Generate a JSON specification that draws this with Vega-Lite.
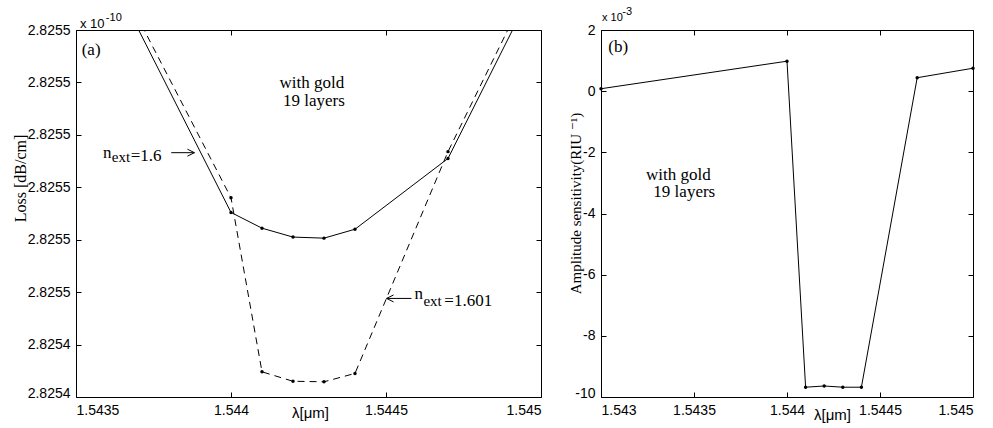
{
  "$schema": "https://vega.github.io/schema/vega-lite/v6.json",
  "autosize": {"type": "none"},
  "padding": {"left": 76, "top": 30, "right": 917, "bottom": 398},
  "background": "white",
  "bounds": "flush",
  "spacing": 60,
  "config": {
    "view": {"stroke": "black", "strokeWidth": 1},
    "axis": {"domain": false, "grid": false, "ticks": true, "tickSize": -5, "tickColor": "black", "tickWidth": 1,
      "labelFont": "Liberation Sans", "labelFontSize": 14, "labelColor": "black", "labelPadding": 11,
      "labelOverlap": false, "labelBound": false, "titleColor": "black", "titleFontWeight": "normal"}
  },
  "datasets": {
    "loss": [
      {"wl": 1.543, "loss": 2.825582, "n": "1.6"},
      {"wl": 1.544, "loss": 2.8254652, "n": "1.6"},
      {"wl": 1.5441, "loss": 2.8254622, "n": "1.6"},
      {"wl": 1.5442, "loss": 2.8254605, "n": "1.6"},
      {"wl": 1.5443, "loss": 2.8254603, "n": "1.6"},
      {"wl": 1.5444, "loss": 2.825462, "n": "1.6"},
      {"wl": 1.5447, "loss": 2.8254755, "n": "1.6"},
      {"wl": 1.545, "loss": 2.8255108, "n": "1.6"},
      {"wl": 1.543, "loss": 2.8255822, "n": "1.601"},
      {"wl": 1.544, "loss": 2.825468, "n": "1.601"},
      {"wl": 1.5441, "loss": 2.8254348, "n": "1.601"},
      {"wl": 1.5442, "loss": 2.825433, "n": "1.601"},
      {"wl": 1.5443, "loss": 2.8254329, "n": "1.601"},
      {"wl": 1.5444, "loss": 2.8254345, "n": "1.601"},
      {"wl": 1.5447, "loss": 2.8254768, "n": "1.601"},
      {"wl": 1.545, "loss": 2.8255129, "n": "1.601"}
    ],
    "sens": [
      {"wl": 1.543, "s": 0.08},
      {"wl": 1.544, "s": 0.98},
      {"wl": 1.5441, "s": -9.68},
      {"wl": 1.5442, "s": -9.64},
      {"wl": 1.5443, "s": -9.68},
      {"wl": 1.5444, "s": -9.68},
      {"wl": 1.5447, "s": 0.44},
      {"wl": 1.545, "s": 0.75}
    ],
    "annA": [
      {"x": 1.5435183, "y": 2.8254952, "t": "(a)", "k": "main"},
      {"x": 1.5442611, "y": 2.825489, "t": "with gold", "k": "mainc"},
      {"x": 1.5442675, "y": 2.8254855, "t": "19 layers", "k": "mainc"},
      {"x": 1.5435867, "y": 2.8254756, "t": "n", "k": "main"},
      {"x": 1.5436156, "y": 2.8254749, "t": "ext", "k": "sub"},
      {"x": 1.5436766, "y": 2.8254751, "t": "=1.6", "k": "main"},
      {"x": 1.5445918, "y": 2.8254486, "t": "n", "k": "main"},
      {"x": 1.5446207, "y": 2.8254474, "t": "ext", "k": "sub"},
      {"x": 1.5446882, "y": 2.8254474, "t": "=1.601", "k": "main"},
      {"x": 1.5435128, "y": 2.8255004, "t": "x 10", "k": "sci"},
      {"x": 1.5435963, "y": 2.8255017, "t": "-10", "k": "sup"}
    ],
    "arrowsA": [
      {"x1": 1.5438073, "x2": 1.5438821, "y": 2.8254766, "tip": 1.5438821, "dir": "r"},
      {"x1": 1.5445019, "x2": 1.5445822, "y": 2.8254488, "tip": 1.5445019, "dir": "l"}
    ],
    "annB": [
      {"x": 1.5430392, "y": 1.2806, "t": "(b)", "k": "main"},
      {"x": 1.5434156, "y": -2.905, "t": "with gold", "k": "mainc"},
      {"x": 1.5434478, "y": -3.46, "t": "19 layers", "k": "mainc"},
      {"x": 1.5430054, "y": 2.294, "t": "x 10", "k": "sci"},
      {"x": 1.5431145, "y": 2.4905, "t": "-3", "k": "sup"}
    ]
  },
  "hconcat": [
    {
      "width": 465,
      "height": 367,
      "layer": [
        {
          "data": {"name": "loss"},
          "transform": [{"filter": "datum.n == '1.6'"}],
          "mark": {"type": "line", "color": "black", "strokeWidth": 1, "clip": true},
          "encoding": {
            "x": {"field": "wl", "type": "quantitative",
              "scale": {"domain": [1.5435, 1.545], "nice": false, "zero": false},
              "axis": {"orient": "bottom", "values": [1.5435, 1.544, 1.5445, 1.545], "format": "~g",
                "title": "λ[μm]", "titleX": 234, "titleY": 20, "titleBaseline": "alphabetic", "titleAlign": "center",
                "titleFont": "Liberation Sans", "titleFontSize": 15}},
            "y": {"field": "loss", "type": "quantitative",
              "scale": {"domain": [2.82543, 2.8255], "nice": false, "zero": false},
              "axis": {"orient": "left",
                "values": [2.82543, 2.82544, 2.82545, 2.82546, 2.82547, 2.82548, 2.82549, 2.8255],
                "labelExpr": "datum.value < 2.825445 ? '2.8254' : '2.8255'",
                "labelBaseline": {"condition": {"test": "datum.value < 2.825435", "value": "alphabetic"}, "value": "middle"},
                "title": "Loss [dB/cm]", "titleX": -56, "titleY": 148, "titleAngle": -90, "titleBaseline": "middle",
                "titleAlign": "center", "titleFont": "Liberation Serif", "titleFontSize": 16}}
          }
        },
        {
          "data": {"name": "loss"},
          "transform": [{"filter": "datum.n == '1.601'"}],
          "mark": {"type": "line", "color": "black", "strokeWidth": 1, "strokeDash": [7, 5], "clip": true},
          "encoding": {
            "x": {"field": "wl", "type": "quantitative",
              "scale": {"domain": [1.5435, 1.545], "nice": false, "zero": false},
              "axis": {"orient": "top", "values": [1.5435, 1.544, 1.5445, 1.545], "labels": false, "title": null}},
            "y": {"field": "loss", "type": "quantitative",
              "scale": {"domain": [2.82543, 2.8255], "nice": false, "zero": false},
              "axis": {"orient": "right", "values": [2.82543, 2.82544, 2.82545, 2.82546, 2.82547, 2.82548, 2.82549, 2.8255],
                "labels": false, "title": null}}
          }
        },
        {
          "data": {"name": "loss"},
          "mark": {"type": "point", "filled": true, "color": "black", "opacity": 1, "size": 12, "clip": true},
          "encoding": {
            "x": {"field": "wl", "type": "quantitative", "axis": null},
            "y": {"field": "loss", "type": "quantitative", "axis": null}
          }
        },
        {
          "data": {"name": "arrowsA"},
          "mark": {"type": "rule", "color": "black", "strokeWidth": 1},
          "encoding": {
            "x": {"field": "x1", "type": "quantitative", "axis": null},
            "x2": {"field": "x2"},
            "y": {"field": "y", "type": "quantitative", "axis": null}
          }
        },
        {
          "data": {"name": "arrowsA"},
          "mark": {"type": "point", "filled": false, "stroke": "black", "strokeWidth": 1, "opacity": 1, "size": 196},
          "encoding": {
            "x": {"field": "tip", "type": "quantitative", "axis": null},
            "y": {"field": "y", "type": "quantitative", "axis": null},
            "shape": {"field": "dir", "type": "nominal", "legend": null,
              "scale": {"domain": ["r", "l"], "range": ["M -1 -0.5 L 0 0 L -1 0.5", "M 1 -0.5 L 0 0 L 1 0.5"]}}
          }
        },
        {
          "data": {"name": "annA"},
          "transform": [{"filter": "datum.k == 'main'"}],
          "mark": {"type": "text", "font": "Liberation Serif", "fontSize": 17, "color": "black", "baseline": "alphabetic", "align": "left"},
          "encoding": {
            "x": {"field": "x", "type": "quantitative", "axis": null},
            "y": {"field": "y", "type": "quantitative", "axis": null},
            "text": {"field": "t"}
          }
        },
        {
          "data": {"name": "annA"},
          "transform": [{"filter": "datum.k == 'mainc'"}],
          "mark": {"type": "text", "font": "Liberation Serif", "fontSize": 17, "color": "black", "baseline": "alphabetic", "align": "center"},
          "encoding": {
            "x": {"field": "x", "type": "quantitative", "axis": null},
            "y": {"field": "y", "type": "quantitative", "axis": null},
            "text": {"field": "t"}
          }
        },
        {
          "data": {"name": "annA"},
          "transform": [{"filter": "datum.k == 'sub'"}],
          "mark": {"type": "text", "font": "Liberation Serif", "fontSize": 15, "color": "black", "baseline": "alphabetic", "align": "left"},
          "encoding": {
            "x": {"field": "x", "type": "quantitative", "axis": null},
            "y": {"field": "y", "type": "quantitative", "axis": null},
            "text": {"field": "t"}
          }
        },
        {
          "data": {"name": "annA"},
          "transform": [{"filter": "datum.k == 'sci'"}],
          "mark": {"type": "text", "font": "Liberation Sans", "fontSize": 13, "color": "black", "baseline": "alphabetic", "align": "left"},
          "encoding": {
            "x": {"field": "x", "type": "quantitative", "axis": null},
            "y": {"field": "y", "type": "quantitative", "axis": null},
            "text": {"field": "t"}
          }
        },
        {
          "data": {"name": "annA"},
          "transform": [{"filter": "datum.k == 'sup'"}],
          "mark": {"type": "text", "font": "Liberation Sans", "fontSize": 11, "color": "black", "baseline": "alphabetic", "align": "left"},
          "encoding": {
            "x": {"field": "x", "type": "quantitative", "axis": null},
            "y": {"field": "y", "type": "quantitative", "axis": null},
            "text": {"field": "t"}
          }
        }
      ],
      "resolve": {"axis": {"x": "independent", "y": "independent"}}
    },
    {
      "width": 372,
      "height": 367,
      "layer": [
        {
          "data": {"name": "sens"},
          "mark": {"type": "line", "color": "black", "strokeWidth": 1},
          "encoding": {
            "x": {"field": "wl", "type": "quantitative",
              "scale": {"domain": [1.543, 1.545], "nice": false, "zero": false},
              "axis": {"orient": "bottom", "values": [1.543, 1.5435, 1.544, 1.5445, 1.545], "format": "~g",
                "title": "λ[μm]", "titleX": 231, "titleY": 22, "titleBaseline": "alphabetic", "titleAlign": "center",
                "titleFont": "Liberation Sans", "titleFontSize": 15}},
            "y": {"field": "s", "type": "quantitative",
              "scale": {"domain": [-10, 2], "nice": false, "zero": false},
              "axis": {"orient": "left", "values": [-10, -8, -6, -4, -2, 0, 2],
                "labelExpr": "'' + datum.value",
                "labelBaseline": {"condition": {"test": "datum.value < -9.5", "value": "alphabetic"}, "value": "middle"},
                "title": "Amplitude sensitivity(RIU ⁻¹)", "titleX": -26, "titleY": 173, "titleAngle": -90, "titleBaseline": "middle",
                "titleAlign": "center", "titleFont": "Liberation Serif, DejaVu Serif", "titleFontSize": 15}}
          }
        },
        {
          "data": {"name": "sens"},
          "mark": {"type": "point", "filled": true, "color": "black", "opacity": 1, "size": 12},
          "encoding": {
            "x": {"field": "wl", "type": "quantitative",
              "scale": {"domain": [1.543, 1.545], "nice": false, "zero": false},
              "axis": {"orient": "top", "values": [1.543, 1.5435, 1.544, 1.5445, 1.545], "labels": false, "title": null}},
            "y": {"field": "s", "type": "quantitative",
              "scale": {"domain": [-10, 2], "nice": false, "zero": false},
              "axis": {"orient": "right", "values": [-10, -8, -6, -4, -2, 0, 2], "labels": false, "title": null}}
          }
        },
        {
          "data": {"name": "annB"},
          "transform": [{"filter": "datum.k == 'main'"}],
          "mark": {"type": "text", "font": "Liberation Serif", "fontSize": 17, "color": "black", "baseline": "alphabetic", "align": "left"},
          "encoding": {
            "x": {"field": "x", "type": "quantitative", "axis": null},
            "y": {"field": "y", "type": "quantitative", "axis": null},
            "text": {"field": "t"}
          }
        },
        {
          "data": {"name": "annB"},
          "transform": [{"filter": "datum.k == 'mainc'"}],
          "mark": {"type": "text", "font": "Liberation Serif", "fontSize": 17, "color": "black", "baseline": "alphabetic", "align": "center"},
          "encoding": {
            "x": {"field": "x", "type": "quantitative", "axis": null},
            "y": {"field": "y", "type": "quantitative", "axis": null},
            "text": {"field": "t"}
          }
        },
        {
          "data": {"name": "annB"},
          "transform": [{"filter": "datum.k == 'sci'"}],
          "mark": {"type": "text", "font": "Liberation Sans", "fontSize": 11, "color": "black", "baseline": "alphabetic", "align": "left"},
          "encoding": {
            "x": {"field": "x", "type": "quantitative", "axis": null},
            "y": {"field": "y", "type": "quantitative", "axis": null},
            "text": {"field": "t"}
          }
        },
        {
          "data": {"name": "annB"},
          "transform": [{"filter": "datum.k == 'sup'"}],
          "mark": {"type": "text", "font": "Liberation Sans", "fontSize": 11, "color": "black", "baseline": "alphabetic", "align": "left"},
          "encoding": {
            "x": {"field": "x", "type": "quantitative", "axis": null},
            "y": {"field": "y", "type": "quantitative", "axis": null},
            "text": {"field": "t"}
          }
        }
      ],
      "resolve": {"axis": {"x": "independent", "y": "independent"}}
    }
  ]
}
